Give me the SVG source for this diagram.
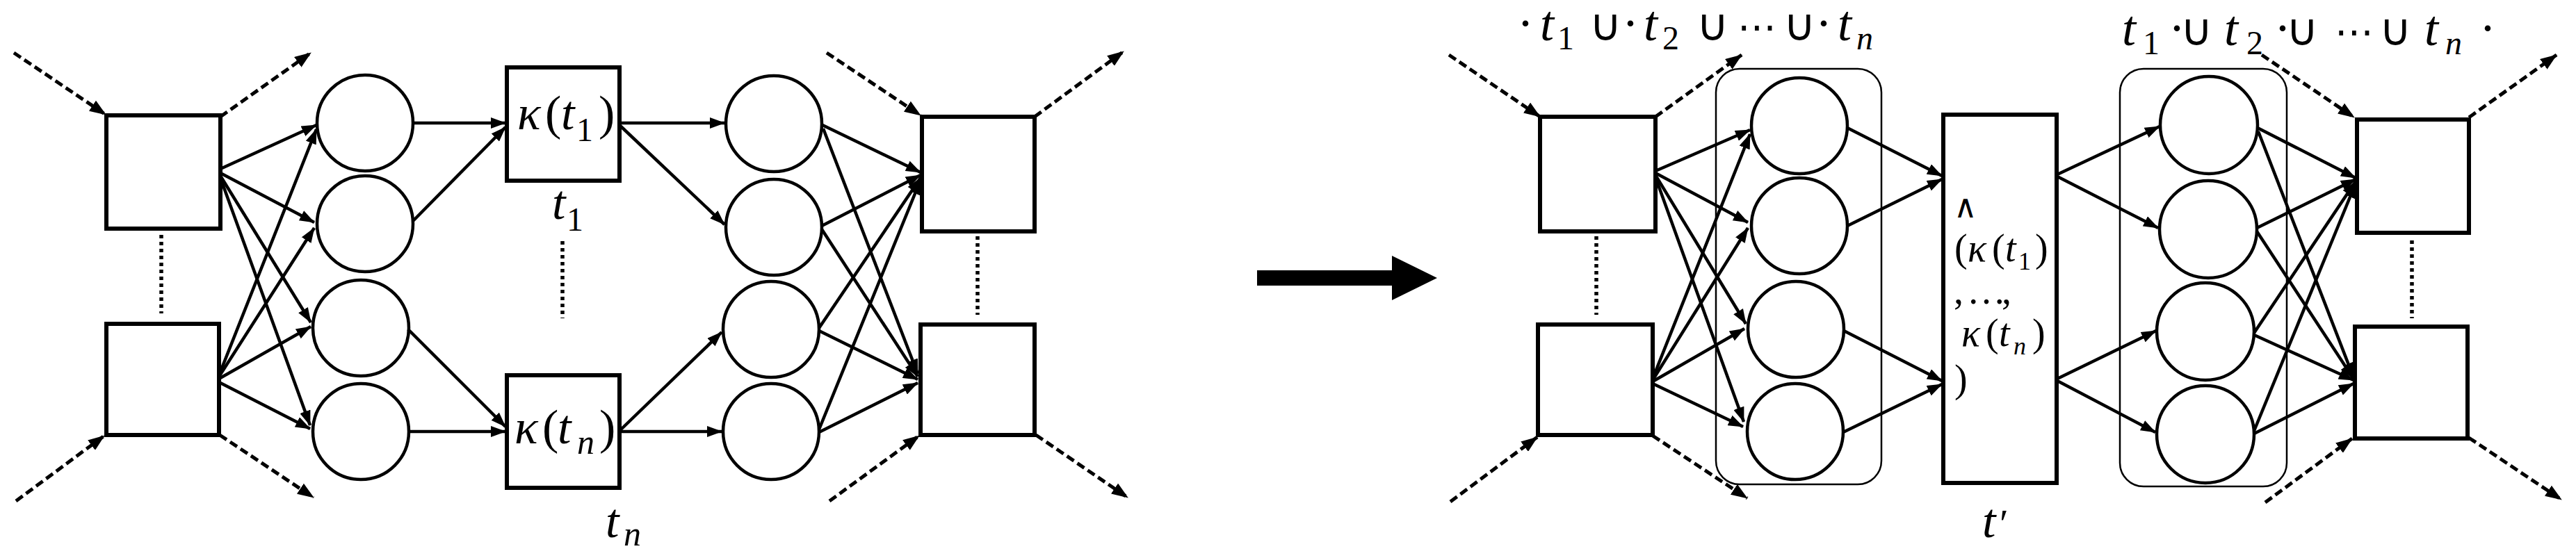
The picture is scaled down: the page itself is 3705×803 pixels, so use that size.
<svg xmlns="http://www.w3.org/2000/svg" width="3705" height="803" viewBox="0 0 3705 803">
<defs>
<style>
.sq{fill:#fff;stroke:#000;stroke-width:6}
.ci{fill:#fff;stroke:#000;stroke-width:4.5}
.grp{fill:none;stroke:#000;stroke-width:2.5}
.e{stroke:#000;stroke-width:4.5;fill:none;marker-end:url(#ah)}
.d{stroke:#000;stroke-width:5;fill:none;stroke-dasharray:12 6;marker-end:url(#ahd)}
.dot{stroke:#000;stroke-width:5.5;fill:none;stroke-dasharray:5 5}
.m{font-family:"Liberation Serif","DejaVu Serif",serif;fill:#000}
.i{font-style:italic}
.s{font-family:"DejaVu Sans","Noto Sans",sans-serif}
</style>
<marker id="ah" viewBox="0 0 22 16" refX="21" refY="8" markerWidth="22" markerHeight="16" markerUnits="userSpaceOnUse" orient="auto"><path d="M0,0 L22,8 L0,16 z" fill="#000"/></marker>
<marker id="ahd" viewBox="0 0 24 18" refX="23" refY="9" markerWidth="24" markerHeight="18" markerUnits="userSpaceOnUse" orient="auto"><path d="M0,0 L24,9 L0,18 z" fill="#000"/></marker>
</defs>
<rect width="3705" height="803" fill="#fff"/>

<!-- LEFT HALF NODES -->
<g id="A1"><rect class="sq" x="153" y="166" width="164" height="163"/></g>
<g id="A2"><rect class="sq" x="153" y="466" width="162" height="160"/></g>
<g id="C1"><circle class="ci" cx="525" cy="177" r="69"/></g>
<g id="C2"><circle class="ci" cx="525" cy="322" r="69"/></g>
<g id="C3"><circle class="ci" cx="519" cy="472" r="69"/></g>
<g id="C4"><circle class="ci" cx="519" cy="621" r="69"/></g>
<g id="K1"><rect class="sq" x="729" y="97" width="162" height="163"/>
<text class="m" font-size="70"><tspan class="i" x="744" y="186">κ</tspan><tspan x="784" y="186">(</tspan><tspan class="i" x="807" y="186">t</tspan><tspan x="829" y="203" font-size="48">1</tspan><tspan x="861" y="186">)</tspan></text></g>
<g id="K2"><rect class="sq" x="729" y="540" width="162" height="162"/>
<text class="m" font-size="70"><tspan class="i" x="740" y="638">κ</tspan><tspan x="780" y="638">(</tspan><tspan class="i" x="802" y="638">t</tspan><tspan class="i" x="830" y="653" font-size="50">n</tspan><tspan x="862" y="638">)</tspan></text></g>
<g id="L_t1"><text class="m" font-size="70"><tspan class="i" x="794" y="315">t</tspan><tspan x="815" y="332" font-size="48">1</tspan></text></g>
<g id="L_tn"><text class="m" font-size="70"><tspan class="i" x="871" y="773">t</tspan><tspan class="i" x="897" y="785" font-size="50">n</tspan></text></g>
<g id="D1"><circle class="ci" cx="1113" cy="178" r="69"/></g>
<g id="D2"><circle class="ci" cx="1113" cy="327" r="69"/></g>
<g id="D3"><circle class="ci" cx="1109" cy="474" r="69"/></g>
<g id="D4"><circle class="ci" cx="1109" cy="621" r="69"/></g>
<g id="B1"><rect class="sq" x="1326" y="168" width="162" height="165"/></g>
<g id="B2"><rect class="sq" x="1324" y="467" width="164" height="159"/></g>

<!-- BIG ARROW -->
<g id="bigArrow"><polygon points="1808,389 2002,389 2002,368 2067,400 2002,432 2002,411 1808,411" fill="#000"/></g>

<!-- RIGHT HALF NODES -->
<g id="topLeftLabel"><text class="m" font-size="72">
<tspan x="2182" y="58">·</tspan><tspan class="i" x="2215" y="58">t</tspan><tspan x="2240" y="71" font-size="48">1</tspan><tspan class="s" x="2286" y="58" font-size="64">∪</tspan><tspan x="2333" y="58">·</tspan><tspan class="i" x="2364" y="58">t</tspan><tspan x="2391" y="71" font-size="48">2</tspan><tspan class="s" x="2440" y="58" font-size="64">∪</tspan><tspan class="s" x="2499" y="58" font-size="56">⋯</tspan><tspan class="s" x="2565" y="58" font-size="64">∪</tspan><tspan x="2611" y="58">·</tspan><tspan class="i" x="2643" y="58">t</tspan><tspan class="i" x="2670" y="71" font-size="48">n</tspan>
</text></g>
<g id="topRightLabel"><text class="m" font-size="72">
<tspan class="i" x="3052" y="65">t</tspan><tspan x="3082" y="78" font-size="48">1</tspan><tspan x="3119" y="65">·</tspan><tspan class="s" x="3136" y="65" font-size="64">∪</tspan><tspan class="i" x="3199" y="65">t</tspan><tspan x="3231" y="78" font-size="48">2</tspan><tspan x="3271" y="65">·</tspan><tspan class="s" x="3288" y="65" font-size="64">∪</tspan><tspan class="s" x="3358" y="65" font-size="56">⋯</tspan><tspan class="s" x="3422" y="65" font-size="64">∪</tspan><tspan class="i" x="3487" y="65">t</tspan><tspan class="i" x="3517" y="78" font-size="48">n</tspan><tspan x="3566" y="65">·</tspan>
</text></g>
<g id="E1"><rect class="sq" x="2215" y="168" width="166" height="165"/></g>
<g id="E2"><rect class="sq" x="2212" y="467" width="165" height="159"/></g>
<g id="R1"><rect class="grp" x="2468" y="99" width="238" height="598" rx="34" ry="34"/></g>
<g id="F1"><circle class="ci" cx="2588" cy="181" r="69"/></g>
<g id="F2"><circle class="ci" cx="2588" cy="325" r="69"/></g>
<g id="F3"><circle class="ci" cx="2583" cy="474" r="69"/></g>
<g id="F4"><circle class="ci" cx="2582" cy="621" r="69"/></g>
<g id="T"><rect class="sq" x="2795" y="165" width="163" height="530"/>
<text class="m" font-size="56">
<tspan class="s" x="2810" y="313" font-size="46">∧</tspan>
<tspan x="2811" y="376">(</tspan><tspan class="i" x="2830" y="376">κ</tspan><tspan x="2865" y="376">(</tspan><tspan class="i" x="2884" y="376">t</tspan><tspan x="2903" y="388" font-size="36">1</tspan><tspan x="2927" y="376">)</tspan>
<tspan x="2810" y="437">,</tspan><tspan x="2829" y="437">…</tspan><tspan x="2879" y="437">,</tspan>
<tspan class="i" x="2821" y="498">κ</tspan><tspan x="2856" y="498">(</tspan><tspan class="i" x="2875" y="498">t</tspan><tspan class="i" x="2896" y="510" font-size="36">n</tspan><tspan x="2923" y="498">)</tspan>
<tspan x="2811" y="564">)</tspan>
</text></g>
<g id="L_tp"><text class="m" font-size="70"><tspan class="i" x="2851" y="773">t</tspan><tspan x="2876" y="773" font-size="58">′</tspan></text></g>
<g id="R2"><rect class="grp" x="3049" y="99" width="240" height="601" rx="34" ry="34"/></g>
<g id="G1"><circle class="ci" cx="3177" cy="180" r="70"/></g>
<g id="G2"><circle class="ci" cx="3176" cy="330" r="70"/></g>
<g id="G3"><circle class="ci" cx="3172" cy="477" r="70"/></g>
<g id="G4"><circle class="ci" cx="3172" cy="625" r="70"/></g>
<g id="H1"><rect class="sq" x="3390" y="172" width="161" height="163"/></g>
<g id="H2"><rect class="sq" x="3387" y="470" width="162" height="161"/></g>

<!-- CONNECTORS -->
<g id="connectors">
<line class="dot" x1="232" y1="338" x2="232" y2="451"/>
<line class="dot" x1="809" y1="347" x2="809" y2="458"/>
<line class="dot" x1="1406" y1="340" x2="1406" y2="453"/>
<line class="dot" x1="2296" y1="340" x2="2296" y2="453"/>
<line class="dot" x1="3469" y1="346" x2="3469" y2="458"/>

<line class="d" x1="20" y1="76" x2="152" y2="165"/>
<line class="d" x1="317" y1="168" x2="447" y2="76"/>
<line class="d" x1="23" y1="721" x2="150" y2="627"/>
<line class="d" x1="316" y1="626" x2="451" y2="716"/>
<line class="d" x1="1189" y1="76" x2="1324" y2="166"/>
<line class="d" x1="1488" y1="168" x2="1616" y2="74"/>
<line class="d" x1="1193" y1="721" x2="1322" y2="627"/>
<line class="d" x1="1490" y1="626" x2="1622" y2="716"/>
<line class="d" x1="2084" y1="79" x2="2215" y2="168"/>
<line class="d" x1="2381" y1="168" x2="2505" y2="79"/>
<line class="d" x1="2086" y1="722" x2="2211" y2="629"/>
<line class="d" x1="2377" y1="627" x2="2513" y2="717"/>
<line class="d" x1="3253" y1="79" x2="3386" y2="169"/>
<line class="d" x1="3551" y1="169" x2="3677" y2="79"/>
<line class="d" x1="3258" y1="723" x2="3383" y2="631"/>
<line class="d" x1="3551" y1="630" x2="3684" y2="719"/>

<line class="e" x1="317" y1="243" x2="455" y2="180"/>
<line class="e" x1="317" y1="249" x2="452" y2="320"/>
<line class="e" x1="317" y1="253" x2="447" y2="464"/>
<line class="e" x1="317" y1="256" x2="446" y2="612"/>
<line class="e" x1="315" y1="540" x2="455" y2="186"/>
<line class="e" x1="315" y1="542" x2="452" y2="328"/>
<line class="e" x1="315" y1="545" x2="447" y2="470"/>
<line class="e" x1="315" y1="550" x2="446" y2="617"/>

<line class="e" x1="595" y1="177" x2="727" y2="177"/>
<line class="e" x1="594" y1="318" x2="727" y2="183"/>
<line class="e" x1="587" y1="474" x2="727" y2="614"/>
<line class="e" x1="588" y1="621" x2="727" y2="621"/>

<line class="e" x1="891" y1="177" x2="1042" y2="177"/>
<line class="e" x1="891" y1="180" x2="1042" y2="323"/>
<line class="e" x1="891" y1="620" x2="1038" y2="478"/>
<line class="e" x1="891" y1="621" x2="1038" y2="621"/>

<line class="e" x1="1183" y1="180" x2="1324" y2="248"/>
<line class="e" x1="1184" y1="185" x2="1320" y2="538"/>
<line class="e" x1="1182" y1="325" x2="1324" y2="252"/>
<line class="e" x1="1182" y1="330" x2="1320" y2="542"/>
<line class="e" x1="1178" y1="472" x2="1324" y2="256"/>
<line class="e" x1="1178" y1="476" x2="1320" y2="546"/>
<line class="e" x1="1178" y1="618" x2="1324" y2="259"/>
<line class="e" x1="1178" y1="622" x2="1320" y2="551"/>

<line class="e" x1="2381" y1="246" x2="2517" y2="187"/>
<line class="e" x1="2381" y1="249" x2="2514" y2="320"/>
<line class="e" x1="2381" y1="252" x2="2511" y2="466"/>
<line class="e" x1="2381" y1="255" x2="2508" y2="607"/>
<line class="e" x1="2377" y1="545" x2="2517" y2="193"/>
<line class="e" x1="2377" y1="547" x2="2514" y2="328"/>
<line class="e" x1="2377" y1="549" x2="2509" y2="473"/>
<line class="e" x1="2377" y1="552" x2="2507" y2="614"/>

<line class="e" x1="2657" y1="184" x2="2793" y2="253"/>
<line class="e" x1="2657" y1="325" x2="2793" y2="258"/>
<line class="e" x1="2652" y1="476" x2="2793" y2="548"/>
<line class="e" x1="2651" y1="622" x2="2793" y2="553"/>

<line class="e" x1="2959" y1="251" x2="3106" y2="182"/>
<line class="e" x1="2959" y1="254" x2="3104" y2="328"/>
<line class="e" x1="2959" y1="545" x2="3101" y2="476"/>
<line class="e" x1="2959" y1="548" x2="3100" y2="622"/>

<line class="e" x1="3247" y1="184" x2="3388" y2="256"/>
<line class="e" x1="3248" y1="189" x2="3385" y2="543"/>
<line class="e" x1="3246" y1="328" x2="3388" y2="258"/>
<line class="e" x1="3246" y1="333" x2="3385" y2="545"/>
<line class="e" x1="3242" y1="479" x2="3388" y2="261"/>
<line class="e" x1="3242" y1="482" x2="3385" y2="547"/>
<line class="e" x1="3242" y1="620" x2="3388" y2="264"/>
<line class="e" x1="3242" y1="624" x2="3385" y2="552"/>
</g>
</svg>
